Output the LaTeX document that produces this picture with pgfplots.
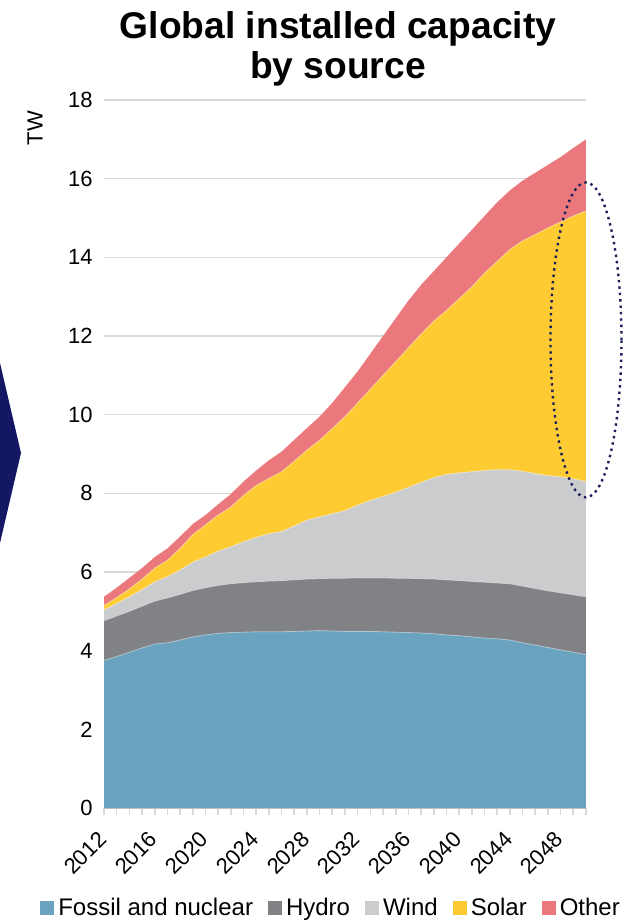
\documentclass[border=0pt]{standalone}
\usepackage{pgfplots}
\pgfplotsset{compat=1.18}
\usepackage{pgfplotstable}
\usepackage{fontspec}
\setmainfont{Liberation Sans}
\definecolor{cFossil}{HTML}{6AA3BF}
\definecolor{cHydro}{HTML}{808285}
\definecolor{cWind}{HTML}{CBCCCE}
\definecolor{cSolar}{HTML}{FECB33}
\definecolor{cOther}{HTML}{EB787D}
\definecolor{cGrid}{HTML}{D9D9D9}
\definecolor{cNavy}{HTML}{141864}
\definecolor{cDots}{HTML}{1B1F5A}

% cumulative tops of each layer (TW)
\pgfplotstableread{
year F H W S O
2012 3.75 4.76 5.04 5.15 5.37
2013 3.85 4.88 5.20 5.35 5.60
2014 3.96 5.00 5.37 5.57 5.85
2015 4.07 5.13 5.55 5.82 6.10
2016 4.17 5.26 5.75 6.10 6.38
2017 4.20 5.34 5.88 6.30 6.60
2018 4.27 5.43 6.05 6.60 6.90
2019 4.35 5.53 6.25 6.95 7.22
2020 4.40 5.60 6.38 7.20 7.45
2021 4.44 5.66 6.53 7.45 7.72
2022 4.46 5.70 6.64 7.65 7.98
2023 4.47 5.73 6.77 7.95 8.30
2024 4.48 5.75 6.88 8.20 8.58
2025 4.48 5.77 6.97 8.38 8.84
2026 4.48 5.78 7.03 8.55 9.06
2027 4.49 5.80 7.17 8.82 9.36
2028 4.50 5.82 7.32 9.10 9.66
2029 4.51 5.83 7.40 9.35 9.95
2030 4.50 5.84 7.48 9.65 10.30
2031 4.49 5.84 7.56 9.95 10.70
2032 4.49 5.85 7.70 10.30 11.10
2033 4.49 5.85 7.82 10.65 11.55
2034 4.48 5.85 7.92 11.00 12.00
2035 4.47 5.84 8.03 11.35 12.45
2036 4.46 5.84 8.15 11.70 12.90
2037 4.45 5.83 8.28 12.05 13.30
2038 4.43 5.82 8.40 12.38 13.65
2039 4.40 5.80 8.48 12.65 14.00
2040 4.38 5.78 8.52 12.95 14.35
2041 4.35 5.76 8.55 13.25 14.70
2042 4.32 5.74 8.58 13.60 15.05
2043 4.30 5.72 8.60 13.90 15.40
2044 4.27 5.70 8.60 14.20 15.70
2045 4.20 5.64 8.56 14.42 15.95
2046 4.14 5.58 8.50 14.58 16.15
2047 4.08 5.52 8.45 14.75 16.35
2048 4.02 5.47 8.42 14.90 16.55
2049 3.96 5.42 8.37 15.05 16.78
2050 3.90 5.37 8.30 15.18 17.00
}\data

\begin{document}
\begin{tikzpicture}
\path[use as bounding box] (0,0) rectangle (317pt,461pt);
% chevron on the left (cut at the picture's edge)
\fill[cNavy] (0pt,279.5pt) -- (10.5pt,234.5pt) -- (0pt,189.5pt) -- cycle;
% title
\node[anchor=base, font=\fontsize{18.6}{20}\selectfont\bfseries] at (169pt,441.7pt) {Global installed capacity};
\node[anchor=base, font=\fontsize{18.6}{20}\selectfont\bfseries] at (169pt,421.7pt) {by source};
\begin{axis}[
  at={(52pt,57pt)}, anchor=south west,
  scale only axis, width=241pt, height=354pt,
  xmin=2012, xmax=2050, ymin=0, ymax=18,
  clip=false,
  axis x line=bottom, axis y line=left,
  axis line style={-},
  x axis line style={cGrid, line width=0.8pt},
  y axis line style={draw=none},
  xtick={2012,2016,...,2048},
  minor xtick={2012,...,2050},
  ytick={0,2,...,18},
  tick align=outside,
  major tick length=3.5pt, minor tick length=3.5pt,
  xtick style={cGrid, line width=0.8pt},
  minor x tick style={cGrid, line width=0.8pt},
  ytick style={draw=none},
  ymajorgrids,
  major grid style={cGrid, line width=0.75pt},
  /pgf/number format/1000 sep={},
  /pgf/number format/assume math mode=true,
  tick label style={font=\fontsize{11}{13}\selectfont},
  yticklabel style={anchor=east, inner sep=0pt, xshift=-2pt},
  xticklabel style={inner sep=0pt, xshift=-0.6pt, yshift=-10.3pt, rotate=45, anchor=east},
  ylabel={TW},
  ylabel style={at={(axis description cs:-0.143,0.96)}, anchor=center, rotate=0, font=\fontsize{11}{13}\selectfont},
  legend style={draw=none, fill=none, at={(axis description cs:-0.133,-0.141)}, anchor=west,
    font=\fontsize{12}{14}\selectfont, inner sep=0pt,
    /tikz/every even column/.append style={column sep=5.5pt}},
  legend columns=-1,
  legend image code/.code={\fill[#1] (0pt,-3.5pt) rectangle (7pt,3.5pt);},
]
\addlegendimage{fill=cFossil, draw=none}\addlegendentry{Fossil and nuclear}
\addlegendimage{fill=cHydro, draw=none}\addlegendentry{Hydro}
\addlegendimage{fill=cWind, draw=none}\addlegendentry{Wind}
\addlegendimage{fill=cSolar, draw=none}\addlegendentry{Solar}
\addlegendimage{fill=cOther, draw=none}\addlegendentry{Other}
\addplot[fill=cOther, draw=none, forget plot] table[x=year, y=O] {\data} \closedcycle;
\addplot[fill=cSolar, draw=none, forget plot] table[x=year, y=S] {\data} \closedcycle;
\addplot[fill=cWind, draw=none, forget plot] table[x=year, y=W] {\data} \closedcycle;
\addplot[fill=cHydro, draw=none, forget plot] table[x=year, y=H] {\data} \closedcycle;
\addplot[fill=cFossil, draw=none, forget plot] table[x=year, y=F] {\data} \closedcycle;
\addplot[white, opacity=0.45, line width=0.4pt, forget plot] table[x=year, y=F] {\data};
\addplot[white, opacity=0.45, line width=0.4pt, forget plot] table[x=year, y=H] {\data};
\addplot[white, opacity=0.45, line width=0.4pt, forget plot] table[x=year, y=W] {\data};
\addplot[white, opacity=0.45, line width=0.4pt, forget plot] table[x=year, y=S] {\data};
\draw[cDots, line width=1.2pt, dash pattern=on 1.2pt off 2pt] (axis cs:2050,11.9) ellipse [x radius=17.75pt, y radius=78.75pt];
\end{axis}
\end{tikzpicture}
\end{document}
